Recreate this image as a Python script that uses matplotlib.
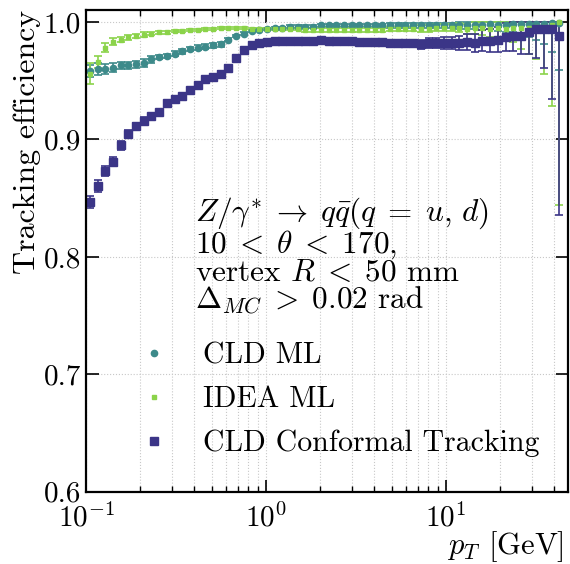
import numpy as np
import matplotlib
matplotlib.use("Agg")
import matplotlib.pyplot as plt
from matplotlib.lines import Line2D

plt.rcParams["font.family"] = "serif"
plt.rcParams["font.serif"] = ["cmr10", "DejaVu Serif"]
plt.rcParams["mathtext.fontset"] = "cm"
plt.rcParams["axes.formatter.use_mathtext"] = True
plt.rcParams["axes.unicode_minus"] = False

# pT binning: 62 log-spaced bins from 0.1 to 45 GeV
pt_edges = np.logspace(-1, np.log10(45), 63)
pt = np.sqrt(pt_edges[:-1] * pt_edges[1:])

eff_cld_ml = [
    0.958, 0.960, 0.960, 0.961, 0.963, 0.963, 0.964, 0.965, 0.968, 0.970,
    0.971, 0.973, 0.975, 0.977, 0.978, 0.979, 0.980, 0.981, 0.985, 0.988,
    0.990, 0.992, 0.993, 0.994, 0.995, 0.995, 0.996, 0.996, 0.996, 0.996,
    0.997, 0.997, 0.997, 0.997, 0.997, 0.997, 0.997, 0.997, 0.997, 0.997,
    0.997, 0.997, 0.997, 0.997, 0.997, 0.997, 0.997, 0.997, 0.997, 0.997,
    0.997, 0.997, 0.998, 0.997, 0.997, 0.998, 0.998, 0.998, 0.998, 0.998,
    0.999, 0.999,
]
err_cld_ml = [
    0.005, 0.005, 0.004, 0.004, 0.003, 0.003, 0.003, 0.003, 0.003, 0.002,
    0.002, 0.002, 0.002, 0.002, 0.002, 0.002, 0.002, 0.002, 0.001, 0.001,
    0.001, 0.001, 0.001, 0.001, 0.001, 0.001, 0.001, 0.001, 0.001, 0.001,
    0.001, 0.001, 0.001, 0.001, 0.001, 0.001, 0.001, 0.001, 0.001, 0.002,
    0.002, 0.002, 0.002, 0.002, 0.002, 0.002, 0.002, 0.002, 0.003, 0.003,
    0.003, 0.004, 0.004, 0.005, 0.006, 0.007, 0.009, 0.011, 0.013, 0.017,
    0.025, 0.040,
]

eff_idea_ml = [
    0.956, 0.966, 0.978, 0.983, 0.985, 0.987, 0.988, 0.989, 0.990, 0.991,
    0.991, 0.992, 0.992, 0.993, 0.993, 0.994, 0.994, 0.995, 0.995, 0.995,
    0.995, 0.994, 0.994, 0.994, 0.994, 0.994, 0.994, 0.994, 0.993, 0.993,
    0.993, 0.993, 0.993, 0.993, 0.993, 0.993, 0.993, 0.993, 0.993, 0.994,
    0.994, 0.994, 0.994, 0.994, 0.994, 0.995, 0.995, 0.995, 0.995, 0.994,
    0.995, 0.995, 0.994, 0.995, 0.994, 0.995, 0.995, 0.995, 0.996, 0.996,
    0.997, 1.000,
]
err_idea_ml = [
    0.009, 0.005, 0.004, 0.003, 0.002, 0.002, 0.002, 0.002, 0.001, 0.001,
    0.001, 0.001, 0.001, 0.001, 0.001, 0.001, 0.001, 0.001, 0.001, 0.001,
    0.001, 0.001, 0.001, 0.001, 0.001, 0.001, 0.001, 0.001, 0.002, 0.002,
    0.002, 0.002, 0.002, 0.002, 0.002, 0.002, 0.002, 0.002, 0.002, 0.002,
    0.002, 0.002, 0.002, 0.003, 0.003, 0.003, 0.003, 0.003, 0.004, 0.004,
    0.005, 0.006, 0.007, 0.008, 0.010, 0.012, 0.018, 0.022, 0.028, 0.040,
    0.069, 0.156,
]

eff_cld_ct = [
    0.847, 0.860, 0.873, 0.881, 0.895, 0.905, 0.911, 0.916, 0.920, 0.923,
    0.931, 0.934, 0.937, 0.942, 0.946, 0.951, 0.953, 0.956, 0.961, 0.969,
    0.976, 0.980, 0.982, 0.983, 0.984, 0.984, 0.984, 0.984, 0.984, 0.984,
    0.985, 0.984, 0.984, 0.984, 0.984, 0.983, 0.983, 0.983, 0.983, 0.982,
    0.982, 0.982, 0.982, 0.981, 0.982, 0.982, 0.982, 0.982, 0.982, 0.983,
    0.982, 0.984, 0.984, 0.985, 0.987, 0.988, 0.988, 0.991, 0.994, 0.994,
    0.994, 0.988,
]
err_cld_ct = [
    0.005, 0.005, 0.004, 0.004, 0.004, 0.003, 0.003, 0.003, 0.002, 0.002,
    0.002, 0.002, 0.002, 0.002, 0.002, 0.002, 0.002, 0.002, 0.002, 0.002,
    0.002, 0.001, 0.001, 0.001, 0.001, 0.001, 0.001, 0.001, 0.001, 0.001,
    0.001, 0.001, 0.001, 0.002, 0.002, 0.002, 0.002, 0.002, 0.002, 0.003,
    0.003, 0.003, 0.003, 0.004, 0.004, 0.004, 0.005, 0.005, 0.006, 0.007,
    0.008, 0.009, 0.010, 0.011, 0.012, 0.013, 0.015, 0.018, 0.025, 0.033,
    0.060, 0.152,
]

labels = ["CLD ML", "IDEA ML", "CLD Conformal Tracking"]
colors = ["#3d8a8a", "#8bd34a", "#3b3587"]
markers = ["o", "s", "s"]
msizes = [4.5, 3.2, 5.5]

fig = plt.figure(figsize=(5.7, 5.64), dpi=100)
ax = fig.add_axes([0.151, 0.128, 0.846, 0.854])

series = [
    (eff_cld_ml, err_cld_ml),
    (eff_idea_ml, err_idea_ml),
    (eff_cld_ct, err_cld_ct),
]
handles = []
for (eff, err), lab, col, mk, ms in zip(series, labels, colors, markers, msizes):
    eff = np.array(eff)
    err = np.array(err)
    err_up = np.minimum(err, 1.0 - eff)
    ax.errorbar(
        pt, eff, yerr=[err, err_up], fmt=mk, color=col, ms=ms,
        elinewidth=1.2, capsize=3, capthick=1.2,
    )
    handles.append(Line2D([], [], ls="none", marker=mk, color=col, ms=ms, label=lab))

ax.set_xscale("log")
ax.set_xlim(0.1, 48)
ax.set_ylim(0.6, 1.01)
ax.set_yticks([0.6, 0.7, 0.8, 0.9, 1.0])
ax.set_yticklabels(["0.6", "0.7", "0.8", "0.9", "1.0"])

ax.grid(which="both", axis="x", ls=":", color="#c8c8c8", lw=0.8)
ax.grid(which="major", axis="y", ls=":", color="#c8c8c8", lw=0.8)
ax.set_axisbelow(True)

ax.tick_params(which="both", direction="in", top=True, right=True, labelsize=21)
ax.tick_params(which="major", length=9, width=1.2)
ax.tick_params(which="minor", length=4.5, width=1.0)
ax.tick_params(axis="x", pad=8)
for sp in ax.spines.values():
    sp.set_linewidth(1.6)

ax.set_ylabel("Tracking efficiency", fontsize=23, loc="top", labelpad=2)
ax.set_xlabel(r"$p_T$ [GeV]", fontsize=22, labelpad=4)
ax.xaxis.set_label_coords(0.99, -0.077)
ax.xaxis.label.set_horizontalalignment("right")

ax.text(
    0.225, 0.615,
    "$Z/\\gamma^{*}\\;\\rightarrow\\;q\\bar{q}(q\\;=\\;u,\\,d)$\n"
    "$10\\;<\\;\\theta\\;<\\;170$,\n"
    "vertex $R\\;<\\;50$ mm\n"
    "$\\Delta_{MC}\\;>\\;0.02$ rad",
    transform=ax.transAxes, fontsize=22.5, va="top", ha="left", linespacing=0.9,
)

ax.legend(
    handles=handles, loc="upper left", bbox_to_anchor=(0.079, 0.342),
    frameon=False, fontsize=21.5, borderpad=0, handlelength=1.0,
    handletextpad=1.15, labelspacing=0.55,
)

fig.savefig("out.png", dpi=100)
